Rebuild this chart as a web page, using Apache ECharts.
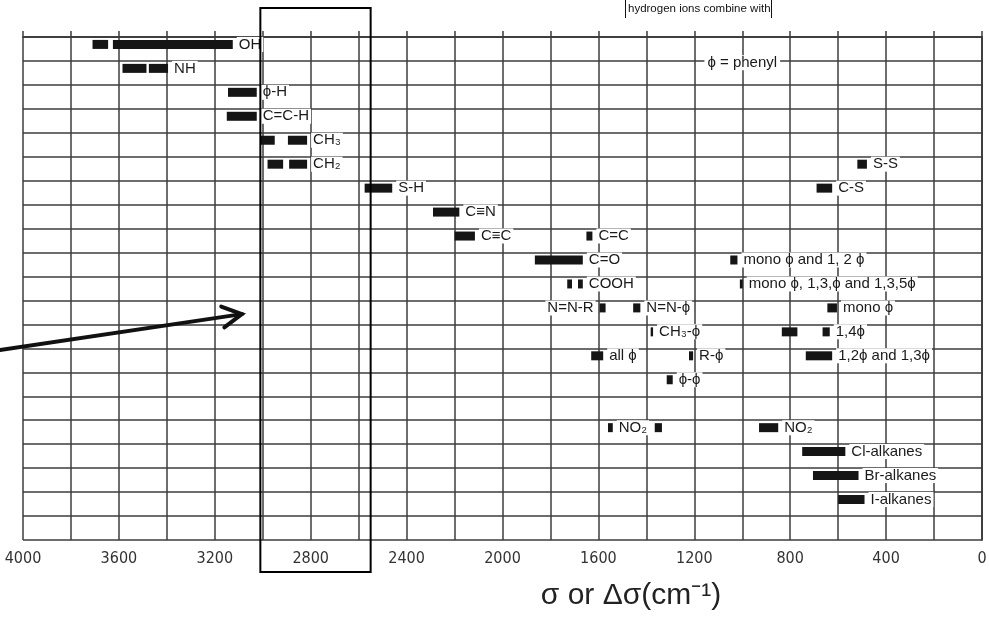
<!DOCTYPE html>
<html>
<head>
<meta charset="utf-8">
<script src="https://cdn.jsdelivr.net/npm/echarts@6/dist/echarts.min.js"></script>
<style>
  html, body { margin: 0; padding: 0; background: #fff; }
  #chart { width: 989px; height: 628px; }
</style>
</head>
<body>
<div id="chart"></div>
<script>
// Raman group-frequency correlation chart (wavenumber shift, cm^-1)

// Group names, drawn next to their bands
const groupNames = [
  'OH', 'NH', 'ϕ-H', 'C=C-H', 'CH₃', 'CH₂', 'S-H', 'C≡N', 'C≡C', 'C=C',
  'C=O', 'COOH', 'N=N-R', 'N=N-ϕ', 'CH₃-ϕ', 'all ϕ', 'R-ϕ', 'ϕ-ϕ', 'S-S', 'C-S',
  'mono ϕ and 1, 2 ϕ', 'mono ϕ, 1,3,ϕ and 1,3,5ϕ', 'mono ϕ', '1,4ϕ', '1,2ϕ and 1,3ϕ',
  'NO₂', 'NO₂', 'Cl-alkanes', 'Br-alkanes', 'I-alkanes'
];

// Chart row of each group (0 = top row)
const groupRows = [
  0, 1, 2, 3, 4, 5, 6, 7, 8, 8,
  9, 10, 11, 11, 12, 13, 13, 14, 5, 6,
  9, 10, 11, 12, 13,
  16, 16, 17, 18, 19
];

// Frequency ranges of each group, [high, low] in cm^-1
const groupBands = [
  [[3710, 3645], [3625, 3125]],
  [[3585, 3485], [3475, 3395]],
  [[3145, 3025]],
  [[3150, 3025]],
  [[3010, 2950], [2895, 2815]],
  [[2980, 2915], [2890, 2815]],
  [[2575, 2460]],
  [[2290, 2180]],
  [[2200, 2115]],
  [[1650, 1625]],
  [[1865, 1665]],
  [[1730, 1710], [1685, 1665]],
  [[1595, 1570]],
  [[1455, 1425]],
  [[1382, 1372]],
  [[1630, 1580]],
  [[1222, 1205]],
  [[1315, 1290]],
  [[520, 480]],
  [[690, 625]],
  [[1050, 1020]],
  [[1010, 998]],
  [[645, 605]],
  [[835, 770], [665, 635]],
  [[735, 625]],
  [[1560, 1540], [1365, 1335]],
  [[930, 850]],
  [[750, 570]],
  [[705, 515]],
  [[600, 490]]
];

// Which band the name follows (-1: name is written before the first band)
const labelAfterBand = [
  1, 1, 0, 0, 1, 1, 0, 0, 0, 0,
  0, 1, -1, 0, 0, 0, 0, 0, 0, 0,
  0, 0, 0, 1, 0,
  0, 0, 0, 0, 0
];

// Key to the symbol used in the names
const noteText = 'ϕ = phenyl';
const notePosition = [1000, 1.08];

// Highlighted C-H / S-H window and the pointer aimed at it
const windowRange = [3010, 2550];
const pointerFrom = [4096, 13.07];
const pointerTo = [3087, 11.57];

const ROW_COUNT = 21;
const ROW_DROP = 0.31;          // names sit just under each ruled line
const BAR_HEIGHT = 9;
const BAR_COLOR = '#151515';
const LABEL_GAP = 4;
const LABEL_FONT = '15px "Liberation Sans", Arial, sans-serif';
const GRID_COLOR = '#3d3d3d';

const bandData = [];
const labelData = [];
groupBands.forEach((bands, i) => {
  bands.forEach(b => bandData.push([b[0], b[1], groupRows[i]]));
  const k = labelAfterBand[i];
  const anchor = k < 0 ? bands[0][0] : bands[k][1];
  labelData.push([anchor, groupRows[i], i]);
});

function renderBand(params, api) {
  const row = api.value(2) + ROW_DROP;
  const a = api.coord([api.value(0), row]);
  const b = api.coord([api.value(1), row]);
  return {
    type: 'rect',
    shape: { x: a[0], y: a[1] - BAR_HEIGHT / 2, width: Math.max(b[0] - a[0], 2), height: BAR_HEIGHT },
    style: { fill: BAR_COLOR }
  };
}

function renderLabel(params, api) {
  const idx = api.value(2);
  const p = api.coord([api.value(0), api.value(1) + ROW_DROP]);
  const before = labelAfterBand[idx] < 0;
  return {
    type: 'text',
    x: p[0] + (before ? -LABEL_GAP : LABEL_GAP),
    y: p[1],
    style: {
      text: groupNames[idx],
      fill: '#1a1a1a',
      font: LABEL_FONT,
      align: before ? 'right' : 'left',
      verticalAlign: 'middle',
      backgroundColor: '#fff',
      padding: [0, 2]
    }
  };
}

function renderNote(params, api) {
  const p = api.coord([api.value(0), api.value(1)]);
  return {
    type: 'text', x: p[0], y: p[1],
    style: {
      text: noteText, fill: '#1a1a1a', font: LABEL_FONT,
      align: 'center', verticalAlign: 'middle',
      backgroundColor: '#fff', padding: [0, 3]
    }
  };
}

function renderWindow(params, api) {
  const a = api.coord([api.value(0), api.value(2)]);
  const b = api.coord([api.value(1), api.value(3)]);
  return {
    type: 'rect',
    shape: { x: a[0], y: a[1], width: b[0] - a[0], height: b[1] - a[1] },
    style: { fill: 'none', stroke: '#000', lineWidth: 2 }
  };
}

function renderPointer(params, api) {
  const a = api.coord([api.value(0), api.value(1)]);
  const b = api.coord([api.value(2), api.value(3)]);
  const ang = Math.atan2(b[1] - a[1], b[0] - a[0]);
  const len = 22, spread = 0.5;
  const p1 = [b[0] - len * Math.cos(ang - spread), b[1] - len * Math.sin(ang - spread)];
  const p2 = [b[0] - len * Math.cos(ang + spread), b[1] - len * Math.sin(ang + spread)];
  const style = { stroke: '#111', lineWidth: 4, fill: 'none', lineCap: 'round', lineJoin: 'miter' };
  return {
    type: 'group',
    children: [
      { type: 'line', shape: { x1: a[0], y1: a[1], x2: b[0], y2: b[1] }, style },
      { type: 'polyline', shape: { points: [p1, b, p2] }, style }
    ]
  };
}

const chart = echarts.init(document.getElementById('chart'), null, { renderer: 'canvas' });

chart.setOption({
  animation: false,
  backgroundColor: '#fff',
  grid: { left: 23, right: 7, top: 37, bottom: 88, containLabel: false, outerBoundsMode: 'none' },
  xAxis: [
    {
      type: 'value', min: 0, max: 4000, interval: 400, inverse: true, position: 'bottom',
      axisLine: { show: true, lineStyle: { color: GRID_COLOR, width: 1.5 } },
      axisTick: { show: false },
      splitLine: { show: false },
      axisLabel: {
        color: '#333', fontSize: 16, margin: 11,
        fontFamily: '"DejaVu Sans Condensed", "Liberation Sans Narrow", "Liberation Sans", sans-serif',
        formatter: v => String(v)
      },
      name: 'σ or Δσ(cm⁻¹)',
      nameLocation: 'middle',
      nameGap: 41,
      nameTextStyle: {
        color: '#222', fontSize: 30, padding: [0, 0, 0, 257],
        fontFamily: '"Liberation Sans", Arial, sans-serif'
      }
    },
    {
      type: 'value', min: 0, max: 4000, interval: 200, inverse: true, position: 'top',
      axisLine: { show: true, lineStyle: { color: GRID_COLOR, width: 1.5 } },
      axisTick: { show: true, length: 6, lineStyle: { color: GRID_COLOR, width: 1.5 } },
      axisLabel: { show: false },
      splitLine: { show: true, lineStyle: { color: GRID_COLOR, width: 1.5 } }
    }
  ],
  yAxis: [
    {
      type: 'value', min: 0, max: ROW_COUNT, interval: 1, inverse: true,
      axisLine: { show: true, lineStyle: { color: GRID_COLOR, width: 1.5 } },
      axisTick: { show: false },
      axisLabel: { show: false },
      splitLine: { show: true, lineStyle: { color: GRID_COLOR, width: 1.5 } }
    },
    {
      type: 'value', min: 0, max: ROW_COUNT, interval: 1, inverse: true, position: 'right',
      axisLine: { show: true, lineStyle: { color: GRID_COLOR, width: 1.5 } },
      axisTick: { show: false },
      axisLabel: { show: false },
      splitLine: { show: false }
    }
  ],
  graphic: [
    {
      type: 'text', left: 628, top: 3,
      style: { text: 'hydrogen ions combine with', fill: '#111', font: '11.5px "Liberation Sans", Arial, sans-serif' }
    },
    { type: 'line', shape: { x1: 625.5, y1: 0, x2: 625.5, y2: 18 }, style: { stroke: '#111', lineWidth: 1 } },
    { type: 'line', shape: { x1: 771.5, y1: 0, x2: 771.5, y2: 18 }, style: { stroke: '#111', lineWidth: 1 } }
  ],
  series: [
    { type: 'custom', name: 'bands', xAxisIndex: 0, yAxisIndex: 0, renderItem: renderBand, data: bandData, z: 3 },
    { type: 'custom', name: 'names', xAxisIndex: 0, yAxisIndex: 0, renderItem: renderLabel, data: labelData, z: 4 },
    { type: 'custom', name: 'note', xAxisIndex: 0, yAxisIndex: 0, renderItem: renderNote, data: [notePosition], z: 4 },
    {
      type: 'custom', name: 'window', xAxisIndex: 0, yAxisIndex: 0, clip: false, z: 5,
      renderItem: renderWindow,
      data: [[windowRange[0], windowRange[1], -1.21, ROW_COUNT + 1.34]]
    },
    {
      type: 'custom', name: 'pointer', xAxisIndex: 0, yAxisIndex: 0, clip: false, z: 5,
      renderItem: renderPointer,
      data: [[pointerFrom[0], pointerFrom[1], pointerTo[0], pointerTo[1]]]
    }
  ]
});
</script>
</body>
</html>
